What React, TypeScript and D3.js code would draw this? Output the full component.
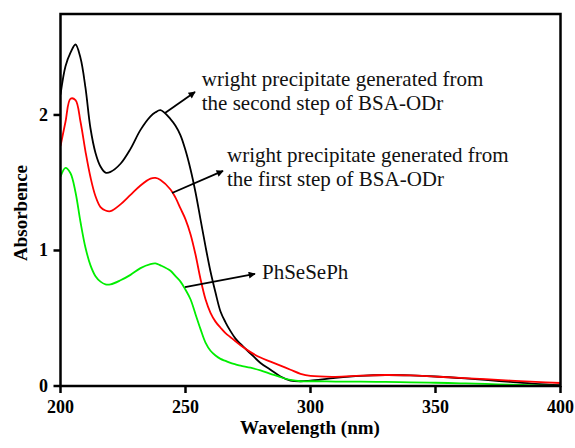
import React from "react";
import * as d3 from "d3";

const wavelengths = [200, 202, 204, 206, 208, 210, 212, 214, 216, 218, 220, 224, 228, 232, 236, 238, 240, 244, 246, 248, 250, 252, 254, 256, 258, 260, 262, 264, 266, 268, 270, 272, 276, 280, 284, 288, 292, 296, 300, 310, 320, 330, 340, 350, 360, 370, 380, 390, 400];

const secondStep = [2.15, 2.36, 2.46, 2.52, 2.42, 2.2, 1.9, 1.72, 1.62, 1.575, 1.58, 1.64, 1.75, 1.89, 1.99, 2.02, 2.035, 1.97, 1.92, 1.85, 1.74, 1.6, 1.43, 1.23, 1.03, 0.845, 0.69, 0.55, 0.47, 0.405, 0.35, 0.31, 0.24, 0.17, 0.12, 0.07, 0.04, 0.035, 0.04, 0.06, 0.075, 0.081, 0.078, 0.07, 0.058, 0.045, 0.03, 0.016, 0.007];

const firstStep = [1.77, 1.95, 2.12, 2.11, 1.95, 1.73, 1.54, 1.4, 1.32, 1.295, 1.29, 1.34, 1.41, 1.48, 1.53, 1.535, 1.52, 1.45, 1.39, 1.31, 1.23, 1.12, 0.97, 0.79, 0.64, 0.54, 0.475, 0.43, 0.39, 0.36, 0.33, 0.3, 0.25, 0.21, 0.18, 0.15, 0.12, 0.09, 0.074, 0.068, 0.076, 0.081, 0.078, 0.069, 0.06, 0.05, 0.04, 0.03, 0.022];

const phSeSePh = [1.545, 1.61, 1.57, 1.43, 1.21, 1.02, 0.89, 0.81, 0.77, 0.75, 0.75, 0.78, 0.82, 0.87, 0.9, 0.905, 0.89, 0.85, 0.81, 0.77, 0.71, 0.64, 0.53, 0.42, 0.32, 0.26, 0.225, 0.2, 0.185, 0.17, 0.16, 0.15, 0.135, 0.115, 0.09, 0.065, 0.045, 0.035, 0.035, 0.033, 0.032, 0.03, 0.027, 0.024, 0.02, 0.015, 0.01, 0.005, 0.0];

const seriesNames = ["second", "first", "PhSeSePh"];
const seriesColors = ["#000000", "#ff0000", "#00ee00"];

const xTicks = [200, 250, 300, 350, 400];
const yTicks = [0, 1, 2];

const labelLines = [
  ["wright precipitate generated from", "the second step of BSA-ODr"],
  ["wright precipitate generated from", "the first step of BSA-ODr"],
  ["PhSeSePh"],
];
// arrow start/end in data coordinates [wavelength, absorbance]
const arrowFrom = [[241.8, 2.015], [244.6, 1.424], [249.8, 0.73]];
const arrowTo = [[253.8, 2.17], [265, 1.587], [277.8, 0.827]];
const labelAnchor = [[256.5, 2.214], [266.6, 1.653], [280.6, 0.79]];

const W = 575;
const H = 448;
const left = 60.5;
const right = 560.5;
const top = 14;
const bottom = 386;

const serif = "'Liberation Serif', 'Times New Roman', Tinos, 'DejaVu Serif', serif";

export default function App() {
  const x = d3.scaleLinear().domain([200, 400]).range([left, right]);
  const y = d3.scaleLinear().domain([0, 2.745]).range([bottom, top]);
  const allSeries = [secondStep, firstStep, phSeSePh];
  const line = d3
    .line<[number, number]>()
    .x((d) => x(d[0]))
    .y((d) => y(d[1]))
    .curve(d3.curveCatmullRom.alpha(0.5));

  const ts = { fontFamily: serif };

  return (
    <svg
      width={W}
      height={H}
      style={{ position: "absolute", left: 0, top: 0, background: "#fff", fontFamily: serif }}
    >
      <defs>
        <clipPath id="plot">
          <rect x={left} y={top} width={right - left} height={bottom - top} />
        </clipPath>
        <marker id="ah" viewBox="0 0 10 10" refX="9" refY="5" markerWidth="9" markerHeight="7" markerUnits="userSpaceOnUse" orient="auto">
          <path d="M0,0 L10,5 L0,10 z" fill="#000" />
        </marker>
      </defs>
      <rect x={0} y={0} width={W} height={H} fill="#fff" />
      <g clipPath="url(#plot)">
        {allSeries.map((vals, i) => (
          <path
            key={seriesNames[i]}
            d={line(wavelengths.map((w, j) => [w, vals[j]] as [number, number])) || ""}
            fill="none"
            stroke={seriesColors[i]}
            strokeWidth={1.8}
          />
        ))}
      </g>
      <rect x={left} y={top} width={right - left} height={bottom - top} fill="none" stroke="#000" strokeWidth={2.5} />
      {xTicks.map((t) => (
        <g key={"x" + t}>
          <line x1={x(t)} x2={x(t)} y1={bottom} y2={bottom + 7} stroke="#000" strokeWidth={2.5} />
          <text x={x(t)} y={413} textAnchor="middle" fontWeight="bold" fontSize={18} style={ts}>
            {t}
          </text>
        </g>
      ))}
      {yTicks.map((t) => (
        <g key={"y" + t}>
          <line x1={left - 7} x2={left} y1={y(t)} y2={y(t)} stroke="#000" strokeWidth={2.5} />
          <text x={48} y={y(t)} textAnchor="end" dominantBaseline="central" fontWeight="bold" fontSize={18} style={ts}>
            {t}
          </text>
        </g>
      ))}
      <text x={310} y={434} textAnchor="middle" fontWeight="bold" fontSize={19} style={ts}>
        Wavelength (nm)
      </text>
      <text transform="translate(27,213) rotate(-90)" textAnchor="middle" fontWeight="bold" fontSize={19} style={ts}>
        Absorbence
      </text>
      {labelLines.map((lines, i) => (
        <g key={"a" + i}>
          <line
            x1={x(arrowFrom[i][0])}
            y1={y(arrowFrom[i][1])}
            x2={x(arrowTo[i][0])}
            y2={y(arrowTo[i][1])}
            stroke="#000"
            strokeWidth={1.8}
            markerEnd="url(#ah)"
          />
          {lines.map((s, k) => (
            <text key={k} x={x(labelAnchor[i][0])} y={y(labelAnchor[i][1]) + k * 24.5} fontSize={21} fill="#111" style={ts}>
              {s}
            </text>
          ))}
        </g>
      ))}
    </svg>
  );
}
